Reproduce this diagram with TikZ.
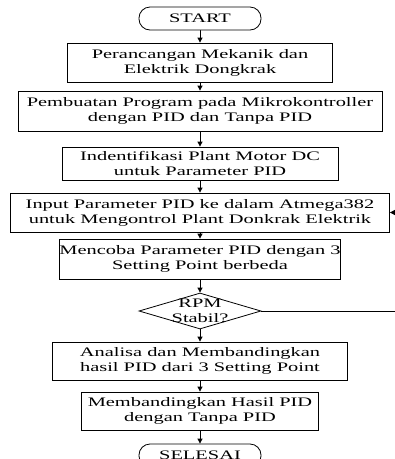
\documentclass[tikz,border=0pt]{standalone}
\usepackage{fontspec}
\setmainfont{Liberation Serif}[FakeStretch=1.57]
\usetikzlibrary{shapes.geometric,arrows.meta}
\pgfdeclarelayer{edgelayer}
\pgfdeclarelayer{nodelayer}
\pgfsetlayers{edgelayer,nodelayer,main}
\tikzstyle{flow}=[draw=black, line width=0.8pt]
\tikzstyle{edge}=[flow, -{Triangle[length=5pt,width=5pt]}]
\tikzstyle{process}=[rectangle, draw=black, line width=0.8pt, fill=white, align=center, inner sep=0pt, font=\fontsize{13}{15}\selectfont]
\tikzstyle{terminal}=[process, rounded corners=11pt, minimum width=122pt, minimum height=23pt]
\tikzstyle{decision}=[diamond, draw=black, line width=0.8pt, fill=white, inner sep=0pt, minimum width=122pt, minimum height=36pt]
\tikzstyle{txt}=[align=center, inner sep=0pt, font=\fontsize{13}{15}\selectfont]

\begin{document}
\begin{tikzpicture}[x=1pt, y=-1pt]
				\useasboundingbox (0, 0) rectangle (395, 459);
				\begin{pgfonlayer}{nodelayer}
					\node [style=terminal] (start) at (200, 18.5) {START};
					\node [style=process, minimum width=265pt, minimum height=39pt] (1) at (200, 62.5) {Perancangan Mekanik dan\\Elektrik Dongkrak};
					\node [style=process, minimum width=364pt, minimum height=40pt] (2) at (200, 111) {Pembuatan Program pada Mikrokontroller\\dengan PID dan Tanpa PID};
					\node [style=process, minimum width=276pt, minimum height=33pt] (3) at (200, 163.5) {Indentifikasi Plant Motor DC\\untuk Parameter PID};
					\node [style=process, minimum width=379pt, minimum height=39pt] (4) at (200, 212.5) {Input Parameter PID ke dalam Atmega382\\untuk Mengontrol Plant Donkrak Elektrik};
					\node [style=process, minimum width=275pt, minimum height=40pt] (5) at (200, 259) {Mencoba Parameter PID dengan 3\\Setting Point berbeda};
					\node [style=decision] (rpm) at (200, 311) {};
					\node [style=txt] (rpmtxt) at (200, 311) {RPM\\Stabil?};
					\node [style=process, minimum width=295pt, minimum height=38pt] (6) at (200, 361) {Analisa dan Membandingkan\\hasil PID dari 3 Setting Point};
					\node [style=process, minimum width=237pt, minimum height=38pt] (7) at (200, 411) {Membandingkan Hasil PID\\dengan Tanpa PID};
					\node [style=terminal] (end) at (200, 455.5) {SELESAI};
					\coordinate (r1) at (395, 311);
					\coordinate (r2) at (395, 212.5);
				\end{pgfonlayer}
				\begin{pgfonlayer}{edgelayer}
					\draw [style=edge] (start) -- (1);
					\draw [style=edge] (1) -- (2);
					\draw [style=edge] (2) -- (3);
					\draw [style=edge] (3) -- (4);
					\draw [style=edge] (4) -- (5);
					\draw [style=edge] (5) -- (rpm);
					\draw [style=edge] (rpm) -- (6);
					\draw [style=edge] (6) -- (7);
					\draw [style=edge] (7) -- (end);
					\draw [style=flow] (rpm.east) -- (r1);
					\draw [style=edge] (r2) -- (4.east);
				\end{pgfonlayer}
			\end{tikzpicture}
\end{document}
